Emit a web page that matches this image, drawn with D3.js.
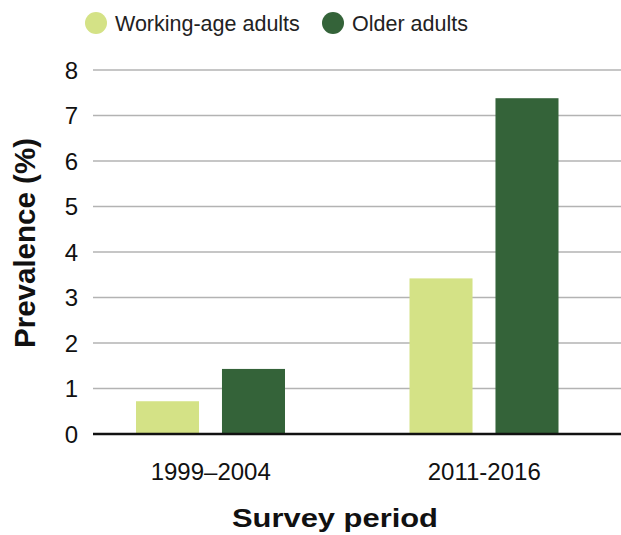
<!DOCTYPE html>
<html><head><meta charset="utf-8">
<script src="https://cdn.jsdelivr.net/npm/d3@7"></script>
<style>body{margin:0;background:#fff}svg{display:block}text{font-family:"Liberation Sans",Arial,sans-serif}</style>
</head><body>
<script>
const categories = ["1999\u20132004", "2011-2016"];
const seriesNames = ["Working-age adults", "Older adults"];
const workingAge = [0.72, 3.42];
const olderAdults = [1.43, 7.38];
const yTicks = [0,1,2,3,4,5,6,7,8];
const colors = ["#d4e286", "#346339"];

const W = 621, H = 535;
const svg = d3.select("body").append("svg").attr("width", W).attr("height", H);

const y = d3.scaleLinear().domain([0, 8]).range([434, 70]);
const x0 = d3.scaleBand().domain(categories).range([74, 621]).padding(0);
const x1 = d3.scaleBand().domain(seriesNames).range([62, 211]).paddingInner(0.267).paddingOuter(0);

// gridlines
svg.append("g").selectAll("line").data(yTicks.filter(d => d > 0)).join("line")
  .attr("x1", 93).attr("x2", 621).attr("y1", d => y(d)).attr("y2", d => y(d))
  .attr("stroke", "#b3b3b3").attr("stroke-width", 1.5);

// y labels
svg.append("g").selectAll("text").data(yTicks).join("text")
  .attr("x", 78).attr("y", d => y(d)).attr("dy", "0.36em")
  .attr("text-anchor", "end").attr("font-size", 24).attr("fill", "#111")
  .text(d => d);

// bars
const data = categories.map((c, i) => ({cat: c, vals: [workingAge[i], olderAdults[i]]}));
const g = svg.append("g").selectAll("g").data(data).join("g")
  .attr("transform", d => `translate(${x0(d.cat)},0)`);
g.selectAll("rect").data(d => d.vals.map((v, j) => ({name: seriesNames[j], v, j}))).join("rect")
  .attr("x", d => x1(d.name)).attr("width", x1.bandwidth())
  .attr("y", d => y(d.v)).attr("height", d => y(0) - y(d.v))
  .attr("fill", d => colors[d.j]);

// baseline
svg.append("line").attr("x1", 93).attr("x2", 621).attr("y1", y(0)).attr("y2", y(0))
  .attr("stroke", "#111").attr("stroke-width", 2.5);

// x labels
svg.append("g").selectAll("text").data(categories).join("text")
  .attr("x", d => x0(d) + x0.bandwidth()/2).attr("y", 480)
  .attr("text-anchor", "middle").attr("font-size", 24).attr("fill", "#111")
  .text(d => d);

// axis titles
svg.append("text").attr("x", 335).attr("y", 527).attr("text-anchor", "middle")
  .attr("font-size", 26).attr("font-weight", "bold").attr("fill", "#111")
  .attr("textLength", 206).attr("lengthAdjust", "spacingAndGlyphs").text("Survey period");
svg.append("text").attr("transform", "translate(35,243) rotate(-90)").attr("text-anchor", "middle")
  .attr("font-size", 29).attr("font-weight", "bold").attr("fill", "#111")
  .attr("textLength", 210).attr("lengthAdjust", "spacingAndGlyphs").text("Prevalence (%)");

// legend
const legX = [96, 333];
const leg = svg.append("g").selectAll("g").data(seriesNames).join("g")
  .attr("transform", (d, i) => `translate(${legX[i]},23)`);
leg.append("circle").attr("r", 11).attr("fill", (d, i) => colors[i]);
leg.append("text").attr("x", 19).attr("dy", "0.36em").attr("font-size", 21.5).attr("fill", "#222").text(d => d);
</script>
</body></html>
